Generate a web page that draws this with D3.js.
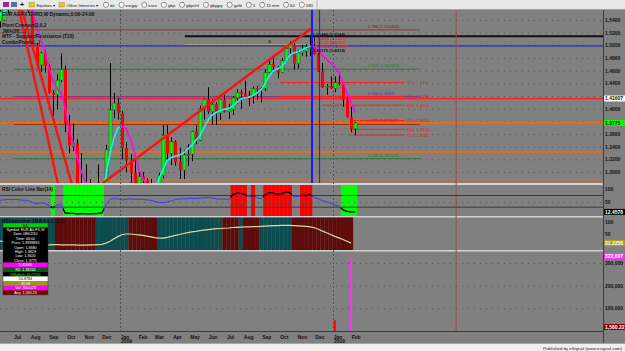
<!DOCTYPE html>
<html><head><meta charset="utf-8">
<script src="https://cdn.jsdelivr.net/npm/d3@7"></script>
<style>
html,body{margin:0;padding:0;background:#808080;overflow:hidden}
svg{display:block;font-family:"Liberation Sans",Arial,sans-serif}
</style></head><body>
<svg id="c" width="625" height="351"></svg>
<script>
// ---------------- DATA ----------------
const weeks = ["2008-06-09","2008-06-16","2008-06-23","2008-06-30","2008-07-07","2008-07-14","2008-07-21","2008-07-28","2008-08-04","2008-08-11","2008-08-18","2008-08-25","2008-09-01","2008-09-08","2008-09-15","2008-09-22","2008-09-29","2008-10-06","2008-10-13","2008-10-20","2008-10-27","2008-11-03","2008-11-10","2008-11-17","2008-11-24","2008-12-01","2008-12-08","2008-12-15","2008-12-22","2008-12-29","2009-01-05","2009-01-12","2009-01-19","2009-01-26","2009-02-02","2009-02-09","2009-02-16","2009-02-23","2009-03-02","2009-03-09","2009-03-16","2009-03-23","2009-03-30","2009-04-06","2009-04-13","2009-04-20","2009-04-27","2009-05-04","2009-05-11","2009-05-18","2009-05-25","2009-06-01","2009-06-08","2009-06-15","2009-06-22","2009-06-29","2009-07-06","2009-07-13","2009-07-20","2009-07-27","2009-08-03","2009-08-10","2009-08-17","2009-08-24","2009-08-31","2009-09-07","2009-09-14","2009-09-21","2009-09-28","2009-10-05","2009-10-12","2009-10-19","2009-10-26","2009-11-02","2009-11-09","2009-11-16","2009-11-23","2009-11-30","2009-12-07","2009-12-14","2009-12-21","2009-12-28","2010-01-04","2010-01-11","2010-01-18","2010-01-25","2010-02-01","2010-02-08"];
const openP  = [1.5380,1.5400,1.5560,1.5780,1.5650,1.5910,1.5850,1.5720,1.5540,1.5010,1.4690,1.4880,1.4670,1.4250,1.4220,1.4450,1.4620,1.3760,1.3420,1.3450,1.2680,1.2740,1.2720,1.2580,1.2600,1.2690,1.2700,1.3350,1.3980,1.4090,1.3930,1.3380,1.3180,1.2990,1.2800,1.2930,1.2870,1.2660,1.2680,1.2630,1.2940,1.3580,1.3290,1.3480,1.3160,1.3030,1.3270,1.3280,1.3640,1.3500,1.4000,1.4150,1.3950,1.4070,1.3930,1.4140,1.3950,1.3990,1.4170,1.4260,1.4240,1.4180,1.4200,1.4320,1.4300,1.4320,1.4570,1.4700,1.4660,1.4570,1.4760,1.4950,1.5010,1.4710,1.4880,1.4910,1.4950,1.4970,1.4860,1.4590,1.4340,1.4350,1.4320,1.4410,1.4390,1.4140,1.3870,1.3680];
const highP  = [1.5580,1.5620,1.5790,1.5910,1.5930,1.6040,1.5900,1.5790,1.5580,1.5040,1.4900,1.4930,1.4700,1.4290,1.4540,1.4870,1.4680,1.3900,1.3770,1.3520,1.3300,1.3120,1.2890,1.2760,1.3120,1.2800,1.3430,1.4720,1.4250,1.4170,1.3960,1.3470,1.3280,1.3260,1.3000,1.3000,1.2900,1.2890,1.2750,1.2990,1.3740,1.3740,1.3550,1.3500,1.3380,1.3340,1.3440,1.3650,1.3740,1.4050,1.4160,1.4340,1.4150,1.4100,1.4140,1.4220,1.4080,1.4200,1.4310,1.4300,1.4440,1.4280,1.4350,1.4360,1.4340,1.4620,1.4770,1.4840,1.4670,1.4800,1.4970,1.5060,1.5030,1.4930,1.5010,1.5020,1.5144,1.5140,1.4880,1.4720,1.4390,1.4510,1.4510,1.4580,1.4420,1.4190,1.4030,1.3790];
const lowP   = [1.5280,1.5390,1.5510,1.5640,1.5610,1.5770,1.5610,1.5510,1.5000,1.4660,1.4580,1.4570,1.4240,1.3880,1.3990,1.4420,1.3630,1.3300,1.3330,1.2330,1.2420,1.2550,1.2420,1.2420,1.2560,1.2430,1.2600,1.3320,1.3850,1.3830,1.3200,1.3000,1.2800,1.2750,1.2680,1.2720,1.2510,1.2580,1.2460,1.2550,1.2900,1.3190,1.3110,1.3100,1.2890,1.2890,1.3100,1.3170,1.3440,1.3490,1.3830,1.3920,1.3750,1.3740,1.3820,1.3940,1.3840,1.3900,1.4080,1.4000,1.4160,1.4040,1.4080,1.4140,1.4100,1.4280,1.4560,1.4570,1.4480,1.4560,1.4730,1.4850,1.4620,1.4630,1.4840,1.4820,1.4830,1.4850,1.4580,1.4330,1.4220,1.4310,1.4260,1.4370,1.4030,1.3860,1.3630,1.3580];
const closeP = [1.5540,1.5560,1.5780,1.5650,1.5910,1.5850,1.5720,1.5540,1.5010,1.4690,1.4880,1.4670,1.4250,1.4220,1.4450,1.4620,1.3760,1.3420,1.3450,1.2680,1.2740,1.2720,1.2580,1.2600,1.2690,1.2700,1.3350,1.3980,1.4090,1.3930,1.3380,1.3180,1.2990,1.2800,1.2930,1.2870,1.2660,1.2680,1.2630,1.2940,1.3580,1.3290,1.3480,1.3160,1.3030,1.3270,1.3280,1.3640,1.3500,1.4000,1.4150,1.3950,1.4070,1.3930,1.4140,1.3950,1.3990,1.4170,1.4260,1.4240,1.4180,1.4200,1.4320,1.4300,1.4320,1.4570,1.4700,1.4660,1.4570,1.4760,1.4950,1.5010,1.4710,1.4880,1.4910,1.4950,1.4970,1.4860,1.4590,1.4340,1.4350,1.4320,1.4410,1.4390,1.4140,1.3870,1.3680,1.3775];
const jmaP   = [1.548,1.552,1.560,1.566,1.572,1.578,1.578,1.570,1.553,1.530,1.510,1.492,1.465,1.445,1.432,1.426,1.400,1.365,1.345,1.322,1.300,1.285,1.270,1.262,1.258,1.260,1.295,1.330,1.355,1.370,1.372,1.368,1.352,1.330,1.305,1.290,1.278,1.270,1.268,1.290,1.305,1.318,1.323,1.325,1.327,1.330,1.336,1.342,1.350,1.357,1.370,1.382,1.390,1.394,1.397,1.399,1.400,1.404,1.410,1.415,1.417,1.418,1.421,1.425,1.430,1.440,1.452,1.460,1.463,1.466,1.474,1.485,1.488,1.490,1.493,1.496,1.499,1.498,1.492,1.484,1.478,1.472,1.466,1.458,1.442,1.425,1.410,1.395];
const rsiV   = [57,58,60,59,60,58,57,55,48,42,47,45,36,28,38,41,8,6,6,4,5,5,4,5,6,8,40,60,63,62,58,60,62,60,61,60,58,57,52,48,47,50,55,60,62,62,63,64,63,65,66,67,66,62,60,62,58,78,84,83,80,68,76,66,62,78,86,84,80,82,88,86,70,71,76,75,78,68,62,55,50,45,38,34,20,14,12,12];
const trendV = [20,18,16,15,14,12,11,10,9,8,7,6,5,6,6,5,5,5,5,4,4,4,5,5,6,7,12,20,30,40,48,50,50,48,46,44,41,38,35,33,33,36,40,44,48,52,56,59,61,64,66,68,70,72,73,74,75,77,78,79,80,80,81,81,82,83,84,85,85,86,86,86,85,84,83,82,80,76,70,62,55,48,40,34,27,20,12,null];
const trendRuns = [["T",14],["R",10],["T",8],["R",7],["T",16],["R",4],["T",1],["R",4],["T",8],["R",15],["-",1]];
const volWeeks = ["2010-01-04","2010-02-01"];
const volValues = [48000,322000];
const volKinds = ["down","current"];

const priceTicks = [1.30,1.32,1.34,1.36,1.38,1.40,1.42,1.44,1.46,1.48,1.50,1.52,1.54];
const priceLabelTicks = [1.30,1.32,1.34,1.36,1.40,1.44,1.46,1.48,1.50,1.52,1.54];
const rsiTicks = [50,100];
const trendTicks = [50,100];
const volTicks = [100000,200000,300000];
const monthTicks = ["2008-07-01","2008-08-01","2008-09-01","2008-10-01","2008-11-01","2008-12-01","2009-01-01","2009-02-01","2009-03-01","2009-04-01","2009-05-01","2009-06-01","2009-07-01","2009-08-01","2009-09-01","2009-10-01","2009-11-01","2009-12-01","2010-01-01","2010-02-01"];
const yearTicks = ["2009-01-01","2010-01-01"];

const fibRatios = ["0.786","0.618","0.500","0.382","0.236"];
const fibPrices = [1.524406,1.462313,1.418700,1.375087,1.321125];
const fibKinds  = ["brown","green","purple","brown","green"];
const fibFrom = "2008-07-03", fibTo = "2010-05-30";

const t20Prices = [1.4414,1.4194,1.4055,1.3813,1.3674,1.3582];
const t20From = ["2009-10-02","2009-10-02","2009-12-13","2010-01-30","2010-01-30","2010-01-30"];
const t20To = "2010-05-04";

const levelPrices = [1.5144,1.5010,1.4990,1.41607,1.3780,1.3316,1.2875];
const levelFrom = ["2009-04-22","2009-04-22",null,null,null,null,null];
const levelTo   = [null,"2009-11-26",null,null,null,null,null];
const levelKinds = ["black","olive","blue","red","orange","orange","orangeThin"];

const trendLineA = [["2008-07-12",1.5558],["2008-09-17",1.2796]];
const trendLineB = [["2008-07-17",1.5558],["2008-10-11",1.2796]];
const trendLineC = [["2008-12-03",1.2827],["2009-11-26",1.5274]];

const vLineDates = ["2009-11-26","2009-12-09","2010-07-31"];
const vLineKinds = ["blueThick","blue","maroon"];

const pivotTexts = [["2009-11-27",1.5150,"1.51440 (1.5144)","k"],["2009-11-29",1.5085,"1.50888 (1.5089)","r"],["2009-11-28",1.5020,"1.50231 (1.5023)","r"],["2009-11-30",1.4960,"1.49862 (1.4986)","r"],["2009-11-27",1.4895,"1.49175 (1.4918)","k"],["2009-09-12",1.5030,"3","k"]];

const paneTitles = ["EUR A0-FX EURO,W Dynamic,0:00-24:00","Pivot Connect(2,0,2","JMA(20,...)","MTF - Support/Resistance (T20)","ComboPivots(...)"];
const rsiTitle = "RSI Color Line Bar(14)";
const trendTitle = "RSI-trending JMA(14,2,-2,2)";
const tipHeader = "D1";
const tipLines = ["Symbol: EUR A0-FX,W","Date: 08/02/10","Time: 00:00","Price: 1.3999835","Open: 1.3680","High: 1.3829","Low: 1.3620","Close: 1.3775"];
const tipRows = [["1.41600","mag"],["R0: 1.38244","dgreen"],["P.Bullish: 20 (T20)","black"],["50.8784","white"],["31.58","olive"],["Vol: 300,023","mag"],["Avg: 1,580.23","dred"]];
const toolbarItems = ["dx","eurjpy","euro","gbp","gbpchf","gbpjpy","gold","5","15 min","60","180"];
const boxWhite = "1.41607", boxGreen = "1.3775", boxRsi = "12.4578", boxTrend = "31.2258", boxVol = "322,097", boxAvg = "1,580.22";
const footerText = "Published by eSignal (www.esignal.com)";

// ---------------- DRAW ----------------
const svg = d3.select("#c");
const parse = d3.timeParse("%Y-%m-%d");
const dates = weeks.map(parse);
const PR = 603;
const x = d3.scaleTime().domain([parse("2009-01-01"), parse("2010-01-01")]).range([120, 333]);
const y = d3.scaleLinear().domain([1.30, 1.54]).range([172, 20]);
const yR = d3.scaleLinear().domain([0, 100]).range([215, 189]);
const yT = d3.scaleLinear().domain([0, 100]).range([246, 222]);
const yV = d3.scaleLinear().domain([0, 300000]).range([331, 263]);
const xd = s => s == null ? null : x(parse(s));
const FS = 5;

svg.append("rect").attr("width",625).attr("height",351).attr("fill","#808080");
const defs = svg.append("defs");
function clip(id, y0, y1){ defs.append("clipPath").attr("id",id).append("rect").attr("x",0).attr("y",y0).attr("width",PR).attr("height",y1-y0); }
clip("cm",10,183); clip("cr",185,216); clip("ct",217,250); clip("cv",251,331);

// grids
const grid = svg.append("g");
grid.selectAll(".gp").data(priceTicks).join("line").attr("x1",0).attr("x2",PR).attr("y1",d=>y(d)+0.5).attr("y2",d=>y(d)+0.5)
  .attr("stroke","#555").attr("stroke-dasharray","1,5");
grid.selectAll(".gv").data(volTicks).join("line").attr("x1",0).attr("x2",PR).attr("y1",d=>yV(d)+0.5).attr("y2",d=>yV(d)+0.5)
  .attr("stroke","#555").attr("stroke-dasharray","1,5");

// pane separators
[[183,2],[216,1.5],[250,1.5]].forEach(([yy,h])=>svg.append("rect").attr("x",0).attr("y",yy).attr("width",PR).attr("height",h).attr("fill","#d2d2d2"));

// ---- main pane
const gm = svg.append("g").attr("clip-path","url(#cm)");
const fibStyle = {brown:"#8e3434",green:"#2f7a2f",purple:"#7a2a9a"};
const fibText = {brown:"#8b1010",green:"#1f7a1f",purple:"#7a1a9a"};
fibPrices.forEach((p,i)=>{
  gm.append("line").attr("x1",xd(fibFrom)).attr("x2",xd(fibTo)).attr("y1",y(p)).attr("y2",y(p)).attr("stroke",fibStyle[fibKinds[i]]).attr("stroke-width",1);
  gm.append("text").attr("x",368).attr("y",y(p)-2).attr("font-size",4.1).attr("fill",fibText[fibKinds[i]]).text(fibRatios[i]+" ("+p.toFixed(6).replace(/0+$/,"")+")");
});
const lvlStyle = {black:["#111",2],olive:["#b4ac44",1],blue:["#1414d0",1],red:["#ff2424",1.5],orange:["#ff6a00",1.5],orangeThin:["#ff6a00",1]};
levelPrices.forEach((p,i)=>{
  const st = lvlStyle[levelKinds[i]];
  gm.append("line").attr("x1",levelFrom[i]?xd(levelFrom[i]):0).attr("x2",levelTo[i]?xd(levelTo[i]):PR)
    .attr("y1",y(p)).attr("y2",y(p)).attr("stroke",st[0]).attr("stroke-width",st[1]);
});
t20Prices.forEach((p,i)=>{
  gm.append("line").attr("x1",xd(t20From[i])).attr("x2",xd(t20To)).attr("y1",y(p)).attr("y2",y(p)).attr("stroke","#ff2020").attr("stroke-width",1);
  gm.append("text").attr("x",xd(t20To)+2).attr("y",y(p)+1.6).attr("font-size",4.2).attr("fill","#e01818").text("T20: "+p.toFixed(4));
});
// year dashed lines
yearTicks.forEach(s=>svg.append("line").attr("x1",xd(s)+0.5).attr("x2",xd(s)+0.5).attr("y1",10).attr("y2",331).attr("stroke","#505050").attr("stroke-dasharray","2,2"));

// candles
const cg = gm.append("g");
dates.forEach((d,i)=>{
  const cx = Math.round(x(d))+0.5;
  cg.append("line").attr("x1",cx).attr("x2",cx).attr("y1",y(highP[i])).attr("y2",y(lowP[i])).attr("stroke","#000").attr("stroke-width",1);
  const up = closeP[i] >= openP[i];
  const t = y(Math.max(openP[i],closeP[i])), b = y(Math.min(openP[i],closeP[i]));
  cg.append("rect").attr("x",cx-1.5).attr("y",t).attr("width",3).attr("height",Math.max(1,b-t))
    .attr("fill",up?"#00ff00":"#ff0000").attr("stroke",up?"#1a3a1a":"none").attr("stroke-width",0.4);
});
// JMA line
for(let i=1;i<jmaP.length;i++){
  gm.append("line").attr("x1",x(dates[i-1])).attr("y1",y(jmaP[i-1])).attr("x2",x(dates[i])).attr("y2",y(jmaP[i]))
    .attr("stroke", jmaP[i]>jmaP[i-1] ? "#00ffff" : "#ff00ff").attr("stroke-width",1.5).attr("stroke-linecap","round");
}
// trendlines
[trendLineA,trendLineB,trendLineC].forEach(tl=>{
  gm.append("line").attr("x1",xd(tl[0][0])).attr("y1",y(tl[0][1])).attr("x2",xd(tl[1][0])).attr("y2",y(tl[1][1]))
    .attr("stroke","#ff1010").attr("stroke-width",2.4);
});
// pivot texts
pivotTexts.forEach(p=>{
  gm.append("text").attr("x",xd(p[0])).attr("y",y(p[1])).attr("font-size",4.3).attr("font-weight","bold")
    .attr("fill",p[3]==="r"?"#ff2020":"#111").text(p[2]);
});
// vertical lines
const vStyle = {blueThick:["#1a1aff",2,183],blue:["#1a1aff",1,183],maroon:["#a04848",1,331]};
vLineDates.forEach((s,i)=>{
  const st = vStyle[vLineKinds[i]];
  svg.append("line").attr("x1",xd(s)).attr("x2",xd(s)).attr("y1",10).attr("y2",st[2]).attr("stroke",st[0]).attr("stroke-width",st[1]);
});
// titles
paneTitles.forEach((t,i)=>{
  svg.append("text").attr("x",2).attr("y",[16,27,32.5,38,43.5][i]).attr("font-size",4.8).attr("font-weight","bold").attr("fill","#111").text(t);
});

// ---- RSI pane
const gr = svg.append("g").attr("clip-path","url(#cr)");
const zone = v => v>=72 ? "#ff0000" : (v<=30 ? "#00ff00" : null);
dates.forEach((d,i)=>{
  const c = zone(rsiV[i]); if(!c) return;
  gr.append("rect").attr("x",x(d)-2.05).attr("y",185).attr("width",4.1).attr("height",31).attr("fill",c);
});
[75,30].forEach(v=>gr.append("line").attr("x1",0).attr("x2",PR).attr("y1",yR(v)).attr("y2",yR(v)).attr("stroke","#3a3a3a"));
gr.append("line").attr("x1",0).attr("x2",PR).attr("y1",yR(50)+0.5).attr("y2",yR(50)+0.5).attr("stroke","#555").attr("stroke-dasharray","1,5");
gr.append("path").attr("d",d3.line().x((v,i)=>x(dates[i])).y(v=>yR(v))(rsiV)).attr("fill","none").attr("stroke","#3838ff").attr("stroke-width",1);
dates.forEach((d,i)=>{
  if(!zone(rsiV[i])) return;
  const pts=[];
  if(i>0) pts.push([(x(dates[i-1])+x(d))/2,(yR(rsiV[i-1])+yR(rsiV[i]))/2]);
  pts.push([x(d),yR(rsiV[i])]);
  if(i<dates.length-1) pts.push([(x(dates[i+1])+x(d))/2,(yR(rsiV[i+1])+yR(rsiV[i]))/2]);
  gr.append("path").attr("d",d3.line()(pts)).attr("fill","none").attr("stroke","#000").attr("stroke-width",1.3);
});
svg.append("text").attr("x",2).attr("y",190.5).attr("font-size",4.8).attr("font-weight","bold").attr("fill","#111").text(rsiTitle);

// ---- trend pane
const gt = svg.append("g").attr("clip-path","url(#ct)");
let wi = 0;
trendRuns.forEach(([s,n])=>{
  for(let k=0;k<n;k++,wi++){
    if(s==="-") continue;
    gt.append("rect").attr("x",x(dates[wi])-2.05).attr("y",217.5).attr("width",4.1).attr("height",32.5).attr("fill",s==="T"?"#0c4c4e":"#5e0b0b");
  }
});
gt.append("path").attr("d",d3.line().defined(v=>v!=null).x((v,i)=>x(dates[i])).y(v=>yT(v))(trendV)).attr("fill","none").attr("stroke","#ddd8a0").attr("stroke-width",1.2);
svg.append("text").attr("x",2).attr("y",222.5).attr("font-size",4.8).attr("font-weight","bold").attr("fill","#111").text(trendTitle);

// ---- volume pane
const gv = svg.append("g").attr("clip-path","url(#cv)");
volWeeks.forEach((s,i)=>{
  gv.append("rect").attr("x",xd(s)-1).attr("y",yV(volValues[i])).attr("width",2).attr("height",yV(0)-yV(volValues[i]))
    .attr("fill",volKinds[i]==="current"?"#ff30ff":"#ff0000");
});

// ---- tooltip box
const tb = svg.append("g");
const tx0=3, tw=45, rowH=4.4;
tb.append("rect").attr("x",tx0).attr("y",223).attr("width",tw).attr("height",4.5).attr("fill","#00d000");
tb.append("text").attr("x",tx0+tw/2).attr("y",226.6).attr("text-anchor","middle").attr("font-size",3.8).attr("fill","#000").text(tipHeader);
tb.append("rect").attr("x",tx0).attr("y",227.5).attr("width",tw).attr("height",tipLines.length*rowH).attr("fill","#000");
tipLines.forEach((t,i)=>tb.append("text").attr("x",tx0+tw/2).attr("y",227.5+rowH*(i+0.78)).attr("text-anchor","middle").attr("font-size",3.7).attr("fill","#fff").text(t));
const rowStyle = {mag:["#ff00ff","#fff"],dgreen:["#0a5a12","#fff"],black:["#000","#00ff00"],white:["#fff","#000"],olive:["#9a9a18","#fff"],dred:["#7a0000","#fff"]};
const ry0 = 227.5+tipLines.length*rowH;
tipRows.forEach(([t,k],i)=>{
  tb.append("rect").attr("x",tx0).attr("y",ry0+i*4.6).attr("width",tw).attr("height",4.6).attr("fill",rowStyle[k][0]);
  tb.append("text").attr("x",tx0+tw/2).attr("y",ry0+i*4.6+3.6).attr("text-anchor","middle").attr("font-size",3.7).attr("fill",rowStyle[k][1]).text(t);
});
tb.append("rect").attr("x",tx0).attr("y",223).attr("width",tw).attr("height",ry0+tipRows.length*4.6-223).attr("fill","none").attr("stroke","#333").attr("stroke-width",0.5);

// ---- right axis
svg.append("line").attr("x1",PR+0.5).attr("x2",PR+0.5).attr("y1",10).attr("y2",343).attr("stroke","#3c3c3c");
function rAxis(scale, ticks, fmt){
  const g = svg.append("g").attr("transform",`translate(${PR+2},0)`).call(d3.axisRight(scale).tickValues(ticks).tickFormat(fmt).tickSize(0).tickPadding(0));
  g.select(".domain").remove();
  g.selectAll("text").attr("font-size",FS).attr("font-weight","bold").attr("fill","#111").attr("font-family","Liberation Sans, Arial, sans-serif");
}
rAxis(y, priceLabelTicks, d3.format(".4f"));
rAxis(yR, rsiTicks, d3.format("d"));
rAxis(yT, trendTicks, d3.format("d"));
rAxis(yV, volTicks, d3.format(","));
function box(yy, txt, bg, fg){
  svg.append("rect").attr("x",PR+1).attr("y",yy-3).attr("width",21).attr("height",6).attr("fill",bg);
  svg.append("text").attr("x",PR+2).attr("y",yy+1.8).attr("font-size",FS).attr("font-weight","bold").attr("fill",fg).text(txt);
}
box(y(levelPrices[3]), boxWhite, "#ffffff", "#111");
box(y(closeP[closeP.length-1]), boxGreen, "#00ff00", "#111");
box(yR(rsiV[rsiV.length-1]), boxRsi, "#000", "#fff");
box(yT(trendV[trendV.length-2]), boxTrend, "#a8a020", "#fff");
box(yV(volValues[1])-2, boxVol, "#ff30ff", "#fff");
box(327, boxAvg, "#8a0000", "#fff");

// ---- bottom axis
svg.append("line").attr("x1",0).attr("x2",PR).attr("y1",331.5).attr("y2",331.5).attr("stroke","#3c3c3c");
const xa = svg.append("g").attr("transform","translate(4.5,331)")
  .call(d3.axisBottom(x).tickValues(monthTicks.map(parse)).tickFormat(d3.timeFormat("%b")).tickSize(0).tickPadding(4));
xa.select(".domain").remove();
xa.selectAll("text").attr("font-size",FS).attr("font-weight","bold").attr("fill","#111").attr("font-family","Liberation Sans, Arial, sans-serif");
const ya = svg.append("g").attr("transform","translate(6,337.5)")
  .call(d3.axisBottom(x).tickValues(yearTicks.map(parse)).tickFormat(d3.timeFormat("%Y")).tickSize(0).tickPadding(2));
ya.select(".domain").remove();
ya.selectAll("text").attr("font-size",FS).attr("font-weight","bold").attr("fill","#111").attr("font-family","Liberation Sans, Arial, sans-serif");

// ---- footer
svg.append("rect").attr("x",0).attr("y",343.5).attr("width",625).attr("height",7.5).attr("fill","#f0f0f0");
svg.append("line").attr("x1",0).attr("x2",625).attr("y1",343.5).attr("y2",343.5).attr("stroke","#a8a8a8");
svg.append("text").attr("x",622).attr("y",349.5).attr("text-anchor","end").attr("font-size",4.4).attr("fill","#222").text(footerText);

// ---- toolbar
svg.append("rect").attr("x",0).attr("y",0).attr("width",625).attr("height",9.5).attr("fill","#e9e9e9");
svg.append("line").attr("x1",0).attr("x2",625).attr("y1",9.5).attr("y2",9.5).attr("stroke","#a0a0a0");
svg.append("rect").attr("x",3).attr("y",2).attr("width",6).attr("height",5).attr("fill","#9b2a9b");
svg.append("rect").attr("x",11).attr("y",2).attr("width",6).attr("height",5).attr("fill","#5a72a8");
svg.append("text").attr("x",20).attr("y",7.4).attr("font-size",7).attr("font-weight","bold").attr("fill","#111").text("+");
[[29,"Equities \u25BE"],[59,"Other Interests \u25BE"]].forEach(([xx,t])=>{
  svg.append("rect").attr("x",xx).attr("y",2.5).attr("width",5.5).attr("height",4.5).attr("fill","#e8c23c").attr("stroke","#a08020").attr("stroke-width",0.4);
  svg.append("text").attr("x",xx+7.5).attr("y",6.6).attr("font-size",4.3).attr("fill","#111").text(t);
});
let tx = 103;
toolbarItems.forEach(t=>{
  svg.append("circle").attr("cx",tx+3).attr("cy",4.8).attr("r",2.6).attr("fill","#fafafa").attr("stroke","#333").attr("stroke-width",0.5);
  const te = svg.append("text").attr("x",tx+7).attr("y",6.6).attr("font-size",4.3).attr("fill","#111").text(t);
  tx += 7 + te.node().getComputedTextLength() + 4;
});
svg.append("line").attr("x1",tx).attr("x2",tx).attr("y1",1).attr("y2",9).attr("stroke","#b0b0b0");
</script>
</body></html>
